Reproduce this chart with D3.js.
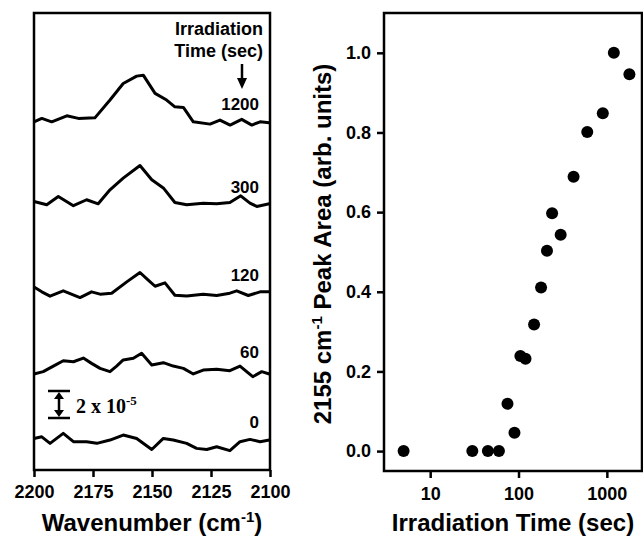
<!DOCTYPE html>
<html>
<head>
<meta charset="utf-8">
<script src="https://cdn.jsdelivr.net/npm/d3@7"></script>
<style>
  body { margin: 0; background: #fff; }
  text { font-family: "Liberation Sans", Arial, sans-serif; font-weight: bold; fill: #000; }
</style>
</head>
<body>
<div id="chart"></div>
<script>
// Left panel: IR difference spectra, values in units of 1e-5 (relative to each trace baseline)
let spec0 = [[2200,0.12],[2196.7,0.24],[2193.2,-0.24],[2187.6,0.49],[2183.3,-0.12],[2177.7,-0.12],[2173.4,-0.24],[2167.8,0],[2162.2,0.37],[2156.5,0.12],[2150.1,-0.69],[2145.2,0.12],[2141,0],[2135.3,-0.24],[2131.1,-0.61],[2126.8,-0.69],[2122.6,-0.49],[2117,-0.78],[2112.7,-0.12],[2108.5,0.05],[2104.2,-0.12],[2100.3,0]];
let spec60 = [[2200,-0.29],[2196.1,-0.12],[2191.8,0.29],[2187.6,0.68],[2183.3,0.61],[2179.1,0.88],[2175.6,0.49],[2172,0.12],[2167.8,-0.12],[2165,0.29],[2162.2,0.74],[2157.9,0.86],[2154.4,1.23],[2150.1,0.37],[2145.2,0.54],[2141,0.29],[2136.7,0.12],[2132.5,-0.29],[2128.3,0],[2122.6,0.05],[2117,-0.05],[2112.7,0.29],[2109.9,-0.12],[2107.3,-0.49],[2103.5,-0.12],[2100.3,-0.29]];
let spec120 = [[2200,0.46],[2196.7,0.1],[2193.2,-0.22],[2187.6,0.17],[2180.5,-0.32],[2175.6,0.1],[2172,-0.07],[2167.1,0],[2160.7,0.83],[2155.1,1.52],[2151.6,0.96],[2148.7,0.51],[2144.5,0.76],[2140.3,-0.15],[2135.3,-0.2],[2128.3,-0.07],[2122.6,-0.17],[2117,0],[2114.1,0.17],[2109.2,-0.17],[2104.2,0.1],[2100.3,0.1]];
let spec300 = [[2200,0.24],[2194.6,0],[2189.7,0.61],[2183.3,-0.07],[2177.7,0.37],[2172.8,0.07],[2167.8,1.1],[2162.2,1.96],[2155.1,2.89],[2150.1,1.84],[2145.2,1.24],[2140.3,0.17],[2135.3,0],[2128.3,0.12],[2122.6,0.07],[2117,0.17],[2112.4,0.66],[2108.5,0.12],[2105.6,-0.12],[2100.3,0.07]];
let spec1200 = [[2200,0],[2196.7,0.25],[2192.5,0],[2186.1,0.44],[2181.2,0.25],[2174.2,0.29],[2167.8,1.6],[2162.2,2.82],[2156.5,3.36],[2153.7,3.43],[2148.7,2.09],[2143.8,1.6],[2140.3,1.1],[2136.7,1.06],[2132.5,0],[2125.4,-0.17],[2121.2,0.13],[2116.9,-0.24],[2112,0.18],[2107.7,-0.24],[2104.2,0],[2100.3,-0.07]];

let spectra = [spec0, spec60, spec120, spec300, spec1200];
let spectraLabels = ["0", "60", "120", "300", "1200"];
let spectraOffsets = [2.2, 7.35, 13.0, 19.5, 25.6];   // stacking offset, units of 1e-5
let wnTicks = [2200, 2175, 2150, 2125, 2100];

// Right panel: peak area vs irradiation time
let times = [5, 30, 45, 60, 75, 90, 105, 120, 150, 180, 210, 240, 300, 420, 600, 900, 1200, 1800];
let areas = [0, 0, 0, 0, 0.119, 0.046, 0.239, 0.232, 0.318, 0.411, 0.503, 0.597, 0.543, 0.689, 0.801, 0.848, 1.0, 0.946];
let timeTicks = [10, 100, 1000];
let areaTicks = [0, 0.2, 0.4, 0.6, 0.8, 1.0];

let svg = d3.select("#chart").append("svg")
  .attr("width", 643)
  .attr("height", 541);

// ---------- left panel ----------
let xL = d3.scaleLinear().domain([2200, 2100]).range([34, 270]);
let yL = d3.scaleLinear().domain([0, 33.6]).range([470, 13]);

let left = svg.append("g");

let line = d3.line()
  .x(function (d) { return xL(d[0]); })
  .y(function (d) { return d[1]; });

spectra.forEach(function (s, i) {
  let pts = s.map(function (d) { return [d[0], yL(d[1] + spectraOffsets[i])]; });
  left.append("path")
    .attr("d", line(pts))
    .attr("fill", "none")
    .attr("stroke", "#000")
    .attr("stroke-width", 3)
    .attr("stroke-linejoin", "round");

  left.append("text")
    .attr("x", 259)
    .attr("y", yL(spectraOffsets[i]) - 12)
    .attr("text-anchor", "end")
    .attr("font-size", 17)
    .text(spectraLabels[i]);
});

// frame
left.append("rect")
  .attr("x", 34).attr("y", 13)
  .attr("width", 236).attr("height", 457)
  .attr("fill", "none").attr("stroke", "#000").attr("stroke-width", 2.5);

let axL = left.append("g")
  .attr("transform", "translate(0,470)")
  .call(d3.axisBottom(xL).tickValues(wnTicks).tickSize(7).tickPadding(8).tickFormat(d3.format("d")));
axL.select(".domain").remove();
axL.selectAll("line").attr("stroke-width", 2.5);
axL.selectAll("text").attr("font-size", 18);

left.append("text")
  .attr("x", 152).attr("y", 531)
  .attr("text-anchor", "middle")
  .attr("font-size", 24)
  .call(function (t) {
    t.append("tspan").text("Wavenumber (cm");
    t.append("tspan").attr("dy", -9).attr("font-size", 15).text("-1");
    t.append("tspan").attr("dy", 9).text(")");
  });

// legend header
left.append("text").attr("x", 263).attr("y", 35).attr("text-anchor", "end").attr("font-size", 18).text("Irradiation");
left.append("text").attr("x", 263).attr("y", 57).attr("text-anchor", "end").attr("font-size", 18).text("Time (sec)");
left.append("line").attr("x1", 242).attr("x2", 242).attr("y1", 64).attr("y2", 80)
  .attr("stroke", "#000").attr("stroke-width", 2.5);
left.append("path").attr("d", "M237,78 L247,78 L242,89 Z").attr("fill", "#000");

// scale bar
let sb = left.append("g").attr("stroke", "#000").attr("stroke-width", 2.5);
sb.append("line").attr("x1", 48).attr("x2", 70).attr("y1", 391).attr("y2", 391);
sb.append("line").attr("x1", 48).attr("x2", 70).attr("y1", 418).attr("y2", 418);
sb.append("line").attr("x1", 59).attr("x2", 59).attr("y1", 396).attr("y2", 413);
left.append("path").attr("d", "M54,399 L64,399 L59,392 Z M54,410 L64,410 L59,417 Z").attr("fill", "#000");
left.append("text")
  .attr("x", 76).attr("y", 413)
  .style("font-family", "'Liberation Serif', 'Times New Roman', serif")
  .attr("font-size", 20)
  .call(function (t) {
    t.append("tspan").text("2 x 10");
    t.append("tspan").attr("dy", -8).attr("font-size", 13).text("-5");
  });

// ---------- right panel ----------
let xR = d3.scaleLog().domain([3, 2500]).range([384, 642]);
let yR = d3.scaleLinear().domain([-0.05, 1.1]).range([471, 13]);

let right = svg.append("g");

right.append("rect")
  .attr("x", 384).attr("y", 13)
  .attr("width", 258).attr("height", 458)
  .attr("fill", "none").attr("stroke", "#000").attr("stroke-width", 2.5);

let axX = right.append("g")
  .attr("transform", "translate(0,471)")
  .call(d3.axisBottom(xR).tickValues(timeTicks).tickSize(7).tickPadding(9).tickFormat(d3.format("d")));
axX.select(".domain").remove();
axX.selectAll("line").attr("stroke-width", 2.5);
axX.selectAll("text").attr("font-size", 18);

let axY = right.append("g")
  .attr("transform", "translate(384,0)")
  .call(d3.axisLeft(yR).tickValues(areaTicks).tickSize(7).tickPadding(6).tickFormat(d3.format(".1f")));
axY.select(".domain").remove();
axY.selectAll("line").attr("stroke-width", 2.5);
axY.selectAll("text").attr("font-size", 18);

right.selectAll("circle")
  .data(times)
  .enter()
  .append("circle")
  .attr("cx", function (d) { return xR(d); })
  .attr("cy", function (d, i) { return yR(areas[i]); })
  .attr("r", 6)
  .attr("fill", "#000");

right.append("text")
  .attr("x", 513).attr("y", 531)
  .attr("text-anchor", "middle")
  .attr("font-size", 24)
  .text("Irradiation Time (sec)");

right.append("text")
  .attr("transform", "translate(331,244) rotate(-90)")
  .attr("text-anchor", "middle")
  .attr("font-size", 24)
  .call(function (t) {
    t.append("tspan").text("2155 cm");
    t.append("tspan").attr("dy", -9).attr("font-size", 15).text("-1");
    t.append("tspan").attr("dy", 9).text(" Peak Area (arb. units)");
  });
</script>
</body>
</html>
